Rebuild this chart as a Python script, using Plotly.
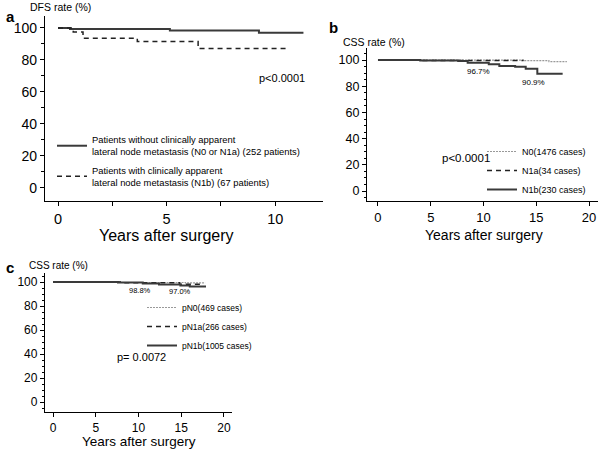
import plotly.graph_objects as go

# ---------------- data ----------------
# Panel a: DFS
a_no_lat_t = [0, 0.55, 5.15, 9.25, 11.3]
a_no_lat_s = [100, 99.3, 98.4, 97.0, 97.0]
a_lat_t = [0, 0.7, 1.15, 3.65, 6.45, 10.55]
a_lat_s = [100, 97.5, 93.6, 91.5, 87.2, 87.2]

# Panel b: CSS by clinical N
b_n0_t = [0, 13.9, 16.2, 17.9]
b_n0_s = [100, 99.5, 98.8, 98.8]
b_n1a_t = [0, 4.0, 13.8]
b_n1a_s = [100, 99.6, 99.6]
b_n1b_t = [0, 4.0, 7.6, 8.5, 10.5, 11.5, 13.0, 14.0, 15.1, 17.5]
b_n1b_s = [100, 99.6, 99.2, 98.0, 96.7, 95.4, 94.8, 93.4, 89.6, 89.6]

# Panel c: CSS by pathological N
c_pn0_t = [0, 8.0, 15.5, 17.8]
c_pn0_s = [100, 99.6, 99.2, 99.2]
c_pn1a_t = [0, 8.0, 14.8, 17.5]
c_pn1a_s = [100, 99.4, 98.2, 98.2]
c_pn1b_t = [0, 7.6, 10.5, 12.4, 14.9, 16.0, 17.9]
c_pn1b_s = [100, 99.5, 98.8, 98.0, 97.0, 96.2, 96.2]

a_names = ["Patients without clinically apparent<br>lateral node metastasis (N0 or N1a) (252 patients)",
           "Patients with clinically apparent<br>lateral node metastasis (N1b) (67 patients)"]
b_names = ["N0(1476 cases)", "N1a(34 cases)", "N1b(230 cases)"]
c_names = ["pN0(469 cases)", "pN1a(266 cases)", "pN1b(1005 cases)"]

b_marks = [(9.5, 91.6, "96.7%"), (14.7, 83.2, "90.9%")]
c_marks = [(10.2, 93.3, "98.8%"), (14.85, 92.5, "97.0%")]

FONT = "Liberation Sans, Arial, sans-serif"
W, H = 600, 450

fig = go.Figure()

solid = dict(color="#3a3a3a", width=2)
dashed = dict(color="#222222", width=1.5, dash="5px,4px")
dotted = dict(color="#999999", width=1.2, dash="2px,1px")

# panel a
fig.add_trace(go.Scatter(x=a_no_lat_t, y=a_no_lat_s, mode="lines", line=dict(shape="hv", **solid),
                         name=a_names[0], legend="legend", legendgroup="a1", xaxis="x", yaxis="y"))
fig.add_trace(go.Scatter(x=a_lat_t, y=a_lat_s, mode="lines", line=dict(shape="hv", **dashed),
                         name=a_names[1], legend="legend", legendgroup="a2", xaxis="x", yaxis="y"))
# panel b
fig.add_trace(go.Scatter(x=b_n0_t, y=b_n0_s, mode="lines", line=dict(shape="hv", **dotted),
                         name=b_names[0], legend="legend2", xaxis="x2", yaxis="y2"))
fig.add_trace(go.Scatter(x=b_n1a_t, y=b_n1a_s, mode="lines", line=dict(shape="hv", **dashed),
                         name=b_names[1], legend="legend2", xaxis="x2", yaxis="y2"))
fig.add_trace(go.Scatter(x=b_n1b_t, y=b_n1b_s, mode="lines", line=dict(shape="hv", **solid),
                         name=b_names[2], legend="legend2", xaxis="x2", yaxis="y2"))
# panel c
fig.add_trace(go.Scatter(x=c_pn0_t, y=c_pn0_s, mode="lines", line=dict(shape="hv", **dotted),
                         name=c_names[0], legend="legend3", xaxis="x3", yaxis="y3"))
fig.add_trace(go.Scatter(x=c_pn1a_t, y=c_pn1a_s, mode="lines", line=dict(shape="hv", **dashed),
                         name=c_names[1], legend="legend3", xaxis="x3", yaxis="y3"))
fig.add_trace(go.Scatter(x=c_pn1b_t, y=c_pn1b_s, mode="lines", line=dict(shape="hv", **solid),
                         name=c_names[2], legend="legend3", xaxis="x3", yaxis="y3"))


def px_x(p):
    return p / W


def px_y(p):
    return 1 - p / H


def xax(domain, rng, tickvals, fs, anchor, minor=None):
    d = dict(domain=domain, range=rng, tickvals=tickvals, ticktext=[str(v) for v in tickvals],
             anchor=anchor, automargin=False,
             showline=True, linecolor="black", linewidth=1.3, ticks="outside", ticklen=4,
             tickcolor="black", tickwidth=1, showgrid=False, zeroline=False,
             tickfont=dict(family=FONT, size=fs, color="black"), fixedrange=True)
    if minor:
        d["minor"] = dict(dtick=minor, tick0=0, ticks="outside", ticklen=4, tickcolor="black",
                          tickwidth=1, showgrid=False)
    return d


def yax(domain, rng, fs, anchor, minor, mlen):
    return dict(domain=domain, range=rng, tickvals=[0, 20, 40, 60, 80, 100], anchor=anchor,
                automargin=False,
                showline=True, linecolor="black", linewidth=1.3, ticks="outside", ticklen=4,
                tickcolor="black", tickwidth=1, showgrid=False, zeroline=False,
                tickfont=dict(family=FONT, size=fs, color="black"), fixedrange=True,
                minor=dict(dtick=minor, tick0=0, ticks="outside", ticklen=mlen, tickcolor="black",
                           tickwidth=1, showgrid=False))


fig.update_layout(
    template="none",
    width=W, height=H, margin=dict(l=0, r=0, t=0, b=0, autoexpand=False),
    paper_bgcolor="white", plot_bgcolor="white",
    font=dict(family=FONT, color="black"),
    xaxis=xax([px_x(45), px_x(323)], [-0.6, 12.2], [0, 5, 10], 14.5, "y", minor=2.5),
    yaxis=yax([px_y(201), px_y(16)], [-8.2, 107.5], 14, "x", 10, 3),
    xaxis2=xax([px_x(367), px_x(598)], [-1.04, 20.85], [0, 5, 10, 15, 20], 13, "y2"),
    yaxis2=yax([px_y(201), px_y(48)], [-7.6, 109.2], 12.5, "x2", 5, 2),
    xaxis3=xax([px_x(45), px_x(232)], [-0.94, 20.94], [0, 5, 10, 15, 20], 12, "y3"),
    yaxis3=yax([px_y(412), px_y(273)], [-8.3, 107.5], 12, "x3", 5, 2),
    legend=dict(x=px_x(52), y=px_y(127), xanchor="left", yanchor="top", bgcolor="rgba(0,0,0,0)",
                font=dict(family=FONT, size=9.4, color="black"), tracegroupgap=3, itemwidth=30),
    legend2=dict(x=px_x(482), y=px_y(137), xanchor="left", yanchor="top", bgcolor="rgba(0,0,0,0)",
                 font=dict(family=FONT, size=9, color="black"), tracegroupgap=0, itemwidth=30),
    legend3=dict(x=px_x(142), y=px_y(293), xanchor="left", yanchor="top", bgcolor="rgba(0,0,0,0)",
                 font=dict(family=FONT, size=8.5, color="black"), tracegroupgap=0, itemwidth=30),
    showlegend=True,
)

ann = []
# panel letters & y titles
ann.append(dict(text="<b>a</b>", x=px_x(4), y=px_y(16), xref="paper", yref="paper",
                xanchor="left", yanchor="middle", showarrow=False, font=dict(size=15)))
ann.append(dict(text="DFS rate (%)", x=px_x(28), y=px_y(7), xref="paper", yref="paper",
                xanchor="left", yanchor="middle", showarrow=False, font=dict(size=10.5)))
ann.append(dict(text="<b>b</b>", x=px_x(327), y=px_y(27), xref="paper", yref="paper",
                xanchor="left", yanchor="middle", showarrow=False, font=dict(size=15)))
ann.append(dict(text="CSS rate (%)", x=px_x(341), y=px_y(42), xref="paper", yref="paper",
                xanchor="left", yanchor="middle", showarrow=False, font=dict(size=10.5)))
ann.append(dict(text="<b>c</b>", x=px_x(4), y=px_y(267), xref="paper", yref="paper",
                xanchor="left", yanchor="middle", showarrow=False, font=dict(size=15)))
ann.append(dict(text="CSS rate (%)", x=px_x(27), y=px_y(265), xref="paper", yref="paper",
                xanchor="left", yanchor="middle", showarrow=False, font=dict(size=10)))
# x titles
ann.append(dict(text="Years after surgery", x=5, y=px_y(235), xref="x", yref="paper",
                xanchor="center", yanchor="middle", showarrow=False, font=dict(size=16)))
ann.append(dict(text="Years after surgery", x=10, y=px_y(235), xref="x2", yref="paper",
                xanchor="center", yanchor="middle", showarrow=False, font=dict(size=14)))
ann.append(dict(text="Years after surgery", x=10, y=px_y(441), xref="x3", yref="paper",
                xanchor="center", yanchor="middle", showarrow=False, font=dict(size=13.5)))
# p values
ann.append(dict(text="p<0.0001", x=10.3, y=69, xref="x", yref="y", showarrow=False, font=dict(size=11)))
ann.append(dict(text="p<0.0001", x=8.3, y=25, xref="x2", yref="y2", showarrow=False, font=dict(size=11.5)))
ann.append(dict(text="p= 0.0072", x=10.3, y=37.5, xref="x3", yref="y3", showarrow=False, font=dict(size=11)))
# percentage marks
for xv, yv, t in b_marks:
    ann.append(dict(text=t, x=xv, y=yv, xref="x2", yref="y2", showarrow=False, font=dict(size=8)))
for xv, yv, t in c_marks:
    ann.append(dict(text=t, x=xv, y=yv, xref="x3", yref="y3", showarrow=False, font=dict(size=7.5)))

for a in ann:
    a["font"]["color"] = "black"
    a["font"]["family"] = FONT

fig.update_layout(annotations=ann)
fig.write_html("out.html", config={"displayModeBar": False},
               post_script="document.body.style.margin='0';document.body.style.overflow='hidden';")
